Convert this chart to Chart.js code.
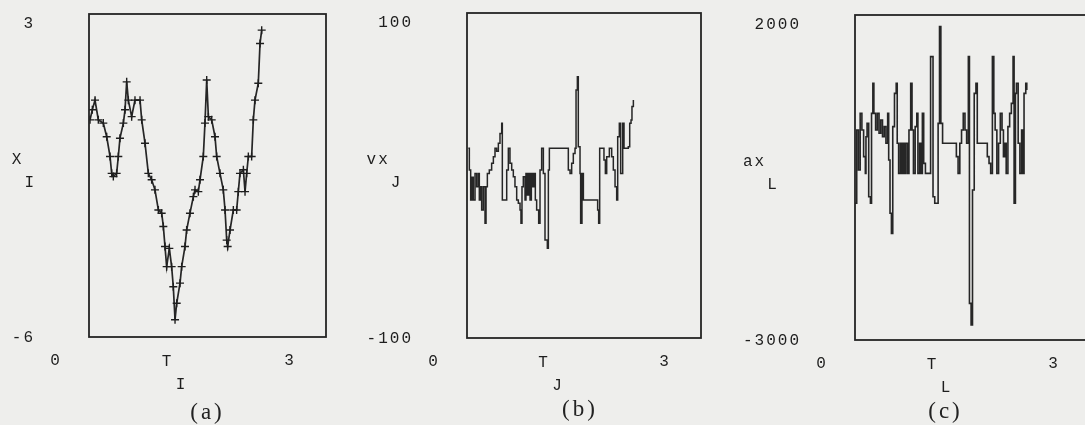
<!DOCTYPE html>
<html><head><meta charset="utf-8">
<script src="https://cdn.jsdelivr.net/npm/chart.js@4.4.0/dist/chart.umd.min.js"></script>
<style>
html,body{margin:0;padding:0;background:#eeeeec;overflow:hidden;}
body{width:1085px;height:425px;position:relative;}
canvas{position:absolute;top:0;}
</style></head>
<body>
<canvas id="ca" width="360" height="425" style="left:0px"></canvas>
<canvas id="cb" width="365" height="425" style="left:360px"></canvas>
<canvas id="cc" width="380" height="425" style="left:725px"></canvas>
<script>
// ---- data ----
const T_I = [0.013,0.042,0.076,0.118,0.181,0.224,0.266,0.287,0.308,0.350,0.371,0.392,0.435,0.456,0.477,0.498,0.540,0.582,0.646,0.667,0.709,0.751,0.793,0.835,0.878,0.920,0.941,0.962,0.983,1.017,1.046,1.067,1.089,1.110,1.152,1.173,1.215,1.236,1.278,1.321,1.342,1.384,1.405,1.447,1.468,1.490,1.511,1.553,1.595,1.616,1.658,1.700,1.722,1.743,1.755,1.785,1.827,1.869,1.890,1.911,1.954,1.975,1.996,2.017,2.059,2.080,2.101,2.143,2.165,2.186];
const X_I = [0.05,0.33,0.60,0.05,-0.04,-0.42,-0.97,-1.44,-1.53,-1.44,-0.97,-0.46,-0.04,0.33,1.11,0.60,0.14,0.60,0.60,0.05,-0.60,-1.44,-1.62,-1.90,-2.46,-2.55,-2.92,-3.48,-4.04,-3.53,-4.04,-4.60,-5.52,-5.06,-4.50,-4.04,-3.48,-3.02,-2.55,-2.09,-1.90,-1.95,-1.62,-0.97,-0.04,1.16,0.14,0.05,-0.42,-0.97,-1.44,-1.90,-2.46,-3.30,-3.48,-3.02,-2.46,-2.46,-1.95,-1.44,-1.34,-1.95,-1.44,-0.97,-0.97,0.05,0.60,1.07,2.18,2.55];

const T_J = [0.017,0.030,0.047,0.064,0.081,0.103,0.124,0.145,0.158,0.175,0.188,0.209,0.231,0.244,0.261,0.286,0.316,0.338,0.359,0.380,0.402,0.423,0.445,0.453,0.487,0.509,0.530,0.551,0.573,0.594,0.615,0.637,0.658,0.680,0.692,0.705,0.722,0.744,0.756,0.774,0.791,0.808,0.825,0.842,0.859,0.876,0.893,0.919,0.936,0.957,0.979,1.000,1.030,1.043,1.056,1.278,1.299,1.321,1.342,1.363,1.385,1.398,1.415,1.427,1.449,1.457,1.474,1.492,1.662,1.675,1.688,1.701,1.739,1.756,1.774,1.791,1.825,1.855,1.876,1.898,1.919,1.932,1.953,1.970,1.996,2.013,2.068,2.086,2.103,2.115,2.133];
const VX_J = [16.7,3.4,-15.1,-1,-15,1.3,-6.9,1.3,-15.1,-6.9,-21.2,-6.9,-29.4,-6.9,1.3,3.4,7.5,11.6,16.7,15,19.8,25.9,32.1,-15.1,-15.1,3.4,16.7,7.5,3.4,-0.7,-6.9,-15.1,-17.1,-21.2,-29.4,-6.9,-0.7,-15.1,1.3,-12,1.3,-15.1,1.3,-6.9,1.3,-15.1,-21.2,-29.4,3.4,16.7,1.3,-39.7,-44.8,3.4,16.7,16.7,3.4,1.3,7.5,13.6,16.7,52.6,60.8,17.7,1.3,-29.4,1.3,-15.1,-15.1,-21.2,-29.4,16.7,16.7,9.5,1.3,11.6,16.7,11.6,3.4,-6.9,-15.1,23.9,32.1,1.3,32.1,16.7,17.7,32.1,34.2,42.4,46.5];

const T_L = [0.000,0.022,0.044,0.066,0.088,0.110,0.132,0.140,0.154,0.175,0.197,0.211,0.228,0.241,0.263,0.285,0.307,0.329,0.351,0.373,0.395,0.417,0.430,0.447,0.465,0.482,0.504,0.526,0.539,0.557,0.579,0.596,0.614,0.632,0.649,0.671,0.689,0.711,0.728,0.746,0.768,0.789,0.803,0.825,0.842,0.860,0.877,0.899,0.943,0.965,0.982,0.996,1.018,1.044,1.061,1.079,1.096,1.118,1.272,1.294,1.316,1.338,1.360,1.382,1.404,1.425,1.447,1.461,1.482,1.500,1.522,1.544,1.561,1.588,1.667,1.689,1.711,1.732,1.754,1.772,1.789,1.811,1.833,1.855,1.877,1.895,1.912,1.930,1.952,1.974,1.996,2.018,2.031,2.048,2.061,2.083,2.105,2.127,2.140,2.158,2.180,2.193];
const AX_L = [-897,231,-385,487,231,-179,-436,128,333,-795,-897,487,949,487,231,487,180,385,128,282,26,487,-231,-1051,-1359,282,795,949,26,-436,26,-436,26,-436,26,-436,231,949,231,-436,282,487,-436,26,-436,487,-282,-436,-436,1359,1359,-795,-897,-897,333,1821,333,26,26,-179,-436,26,231,487,231,26,1359,-2436,-2769,-692,795,949,26,26,26,-179,-282,-436,1359,487,231,-436,26,487,231,-179,26,-436,282,487,641,1359,-897,795,949,26,-436,231,-436,795,949,846];

const X_RANGE = [0, 3];
const Y_RANGE_A = [-6, 3];
const Y_RANGE_B = [-100, 100];
const Y_RANGE_C = [-3000, 2000];
const Y_TICKS_A = ['3', '-6'];
const Y_TICKS_B = ['100', '-100'];
const Y_TICKS_C = ['2000', '-3000'];
const X_TICKS = ['0', '3'];

// ---- label / frame plugin ----
const MONO = '16px "Liberation Mono", "DejaVu Sans Mono", monospace';
const mcPlugin = {
  id: 'mcLabels',
  afterDraw(chart, args, o) {
    const ctx = chart.ctx;
    const {left, right, top, bottom} = chart.chartArea;
    const xs = chart.scales.x, ys = chart.scales.y;
    ctx.save();
    // frame
    ctx.strokeStyle = '#242424';
    ctx.lineWidth = 1.8;
    ctx.strokeRect(left, top, right - left, bottom - top);
    ctx.fillStyle = '#1e1e1e';
    ctx.font = MONO;
    ctx.letterSpacing = '2px';
    ctx.textBaseline = 'middle';
    // y tick labels
    const yr = left - 54;
    ctx.textAlign = 'right';
    ctx.fillText(o.yTicks[0], yr, ys.getPixelForValue(ys.max) + 10);
    ctx.fillText(o.yTicks[1], yr, ys.getPixelForValue(ys.min) + 1);
    // y title
    const wBottom = ctx.measureText(o.yTicks[1]).width;
    const tx = yr - wBottom;
    const ty = (top + bottom) / 2 - 16;
    ctx.textAlign = 'left';
    ctx.fillText(o.yTitle, tx, ty);
    const wT = ctx.measureText(o.yTitle).width;
    ctx.fillText(o.ySub, tx + wT + 1, ty + 23);
    // x tick labels
    ctx.textAlign = 'center';
    ctx.fillText(o.xTicks[0], xs.getPixelForValue(xs.min) - 33, bottom + 24);
    ctx.fillText(o.xTicks[1], xs.getPixelForValue(xs.max) - 36, bottom + 24);
    // x title
    const cx = (left + right) / 2 - 40;
    ctx.fillText('T', cx, bottom + 25);
    ctx.fillText(o.xSub, cx + 14, bottom + 48);
    // panel label
    ctx.font = '23px "Liberation Serif", "DejaVu Serif", serif';
    ctx.letterSpacing = '3px';
    ctx.fillStyle = '#222';
    ctx.fillText(o.panel, (left + right) / 2 + o.panelDx, bottom + o.panelDy);
    ctx.restore();
  }
};

function makeChart(id, tArr, vArr, yRange, pad, ds, lab) {
  const pts = tArr.map((t, i) => ({x: t, y: vArr[i]}));
  return new Chart(document.getElementById(id), {
    type: 'line',
    data: { datasets: [Object.assign({ data: pts, borderColor: '#262626', tension: 0, fill: false }, ds)] },
    options: {
      responsive: false, animation: false, events: [],
      layout: { padding: pad },
      plugins: { legend: {display: false}, tooltip: {enabled: false}, mcLabels: lab },
      scales: {
        x: { type: 'linear', min: X_RANGE[0], max: X_RANGE[1], display: false },
        y: { type: 'linear', min: yRange[0], max: yRange[1], display: false }
      }
    },
    plugins: [mcPlugin]
  });
}

makeChart('ca', T_I, X_I, Y_RANGE_A, {left: 89, right: 34, top: 14, bottom: 88},
  { borderWidth: 1.7, pointStyle: 'cross', pointRadius: 4, pointBorderWidth: 1.4, pointBorderColor: '#1e1e1e' },
  { yTicks: Y_TICKS_A, xTicks: X_TICKS, yTitle: 'X', ySub: 'I', xSub: 'I', panel: '(a)', panelDx: 0, panelDy: 76 });

makeChart('cb', T_J, VX_J, Y_RANGE_B, {left: 107, right: 24, top: 13, bottom: 87},
  { borderWidth: 1.5, pointRadius: 0, stepped: true },
  { yTicks: Y_TICKS_B, xTicks: X_TICKS, yTitle: 'vx', ySub: 'J', xSub: 'J', panel: '(b)', panelDx: -4, panelDy: 72 });

makeChart('cc', T_L, AX_L, Y_RANGE_C, {left: 130, right: 15, top: 15, bottom: 85},
  { borderWidth: 1.6, pointRadius: 0, stepped: true },
  { yTicks: Y_TICKS_C, xTicks: X_TICKS, yTitle: 'ax', ySub: 'L', xSub: 'L', panel: '(c)', panelDx: -27, panelDy: 72 });
</script>
</body></html>
